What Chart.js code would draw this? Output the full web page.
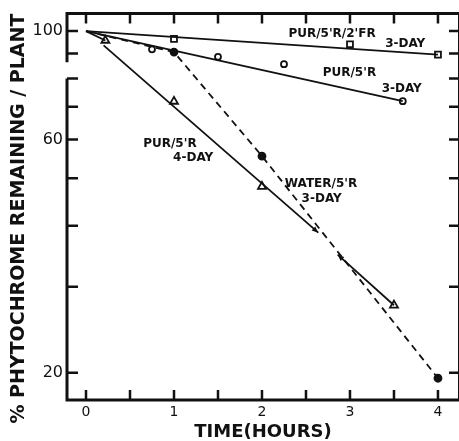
<!DOCTYPE html>
<html><head><meta charset="utf-8">
<script src="https://cdn.jsdelivr.net/npm/chart.js@4"></script>
<style>html,body{margin:0;padding:0;background:#fff;overflow:hidden}</style>
</head><body>
<canvas id="c" width="459" height="441"></canvas>
<script>
// ---- axis ticks / labels ----
const timeTicks = [0, 0.5, 1, 1.5, 2, 2.5, 3, 3.5, 4];
const timeLabels = [0, 1, 2, 3, 4];
const pctTicks = [20, 30, 40, 50, 60, 70, 80, 90, 100];
const pctLabels = [20, 60, 100];
const breakPct = [80, 86.4];   // gap in left axis

// ---- measured points ----
const frTime = [1, 3, 4];            const frPct = [96.4, 94.0, 89.5];        // PUR/5'R/2'FR 3-DAY (squares)
const rTime = [0.75, 1.5, 2.25, 3.6]; const rPct = [91.8, 88.6, 85.6, 71.9];  // PUR/5'R 3-DAY (open circles)
const r4Time = [0.22, 1, 2, 3.5];     const r4Pct = [95.7, 71.8, 48.1, 27.5]; // PUR/5'R 4-DAY (triangles)
const wTime = [1, 2, 4];              const wPct = [90.6, 55.5, 19.5];        // WATER/5'R 3-DAY (filled circles)

// ---- drawn lines ----
const frFitTime = [0, 4];        const frFitPct = [100, 89.5];
const rFitTime = [0, 3.6];       const rFitPct = [100, 71.9];
const r4FitTimeA = [0, 0.22];    const r4FitPctA = [100, 95.7];
const r4FitTimeB = [0.2, 2.64];  const r4FitPctB = [93.5, 38.7];
const r4FitTimeC = [2.86, 3.5];  const r4FitPctC = [34.9, 27.5];
const wFitTime = [0, 1, 2, 4];   const wFitPct = [100, 90.6, 55.5, 19.5];

// ---- in-plot labels ----
const noteText = ["PUR/5'R/2'FR", "3-DAY", "PUR/5'R", "3-DAY", "PUR/5'R", "4-DAY", "WATER/5'R", "3-DAY"];
const noteTime = [2.3, 3.4, 2.69, 3.36, 0.65, 0.99, 2.26, 2.45];
const notePct  = [98.7, 94.3, 82.1, 76.3, 58.9, 55.1, 48.6, 45.4];

const pts = (xs, ys) => xs.map((x, i) => ({x: x, y: ys[i]}));
const INK = '#111';

function lineDs(xs, ys, dash) {
  return {type: 'scatter', data: pts(xs, ys), showLine: true, pointRadius: 0,
          borderColor: INK, borderWidth: 1.8, borderDash: dash || [], fill: false};
}
function markDs(xs, ys, style, r, fillCol) {
  return {type: 'scatter', data: pts(xs, ys), showLine: false, pointStyle: style,
          pointRadius: r, pointBorderWidth: 1.8, pointBorderColor: INK,
          pointBackgroundColor: fillCol, borderColor: INK, backgroundColor: fillCol};
}

function arrowHead(ctx, x0, y0, x1, y1, len) {
  const a = Math.atan2(y1 - y0, x1 - x0);
  ctx.beginPath();
  ctx.moveTo(x1, y1);
  ctx.lineTo(x1 - len * Math.cos(a - 0.4), y1 - len * Math.sin(a - 0.4));
  ctx.lineTo(x1 - len * Math.cos(a + 0.4), y1 - len * Math.sin(a + 0.4));
  ctx.closePath();
  ctx.fill();
}

const framePlugin = {
  id: 'frame',
  afterDatasetsDraw(chart) {
    const {ctx, chartArea: a, scales: {x, y}} = chart;
    ctx.save();
    ctx.strokeStyle = INK; ctx.fillStyle = INK;
    ctx.lineWidth = 3; ctx.lineCap = 'butt';
    ctx.beginPath();
    ctx.moveTo(a.left - 1.5, a.top); ctx.lineTo(a.right + 2, a.top);
    ctx.moveTo(a.left - 1.5, a.bottom); ctx.lineTo(a.right + 2, a.bottom);
    ctx.moveTo(a.right + 0.5, a.top); ctx.lineTo(a.right + 0.5, a.bottom);
    ctx.moveTo(a.left, a.top); ctx.lineTo(a.left, y.getPixelForValue(breakPct[1]));
    ctx.moveTo(a.left, y.getPixelForValue(breakPct[0])); ctx.lineTo(a.left, a.bottom);
    ctx.stroke();
    // inward ticks
    ctx.lineWidth = 2.5;
    ctx.beginPath();
    timeTicks.forEach(t => {
      const px = x.getPixelForValue(t);
      ctx.moveTo(px, a.bottom); ctx.lineTo(px, a.bottom - 10);
      ctx.moveTo(px, a.top); ctx.lineTo(px, a.top + 10);
    });
    pctTicks.forEach(p => {
      const py = y.getPixelForValue(p);
      ctx.moveTo(a.left, py); ctx.lineTo(a.left + 11, py);
      ctx.moveTo(a.right, py); ctx.lineTo(a.right - 10, py);
    });
    ctx.stroke();
    // little arrowheads on the broken 4-day line
    const bx0 = x.getPixelForValue(r4FitTimeB[0]), by0 = y.getPixelForValue(r4FitPctB[0]);
    const bx1 = x.getPixelForValue(r4FitTimeB[1]), by1 = y.getPixelForValue(r4FitPctB[1]);
    arrowHead(ctx, bx0, by0, bx1, by1, 7);
    const cx0 = x.getPixelForValue(r4FitTimeC[1]), cy0 = y.getPixelForValue(r4FitPctC[1]);
    const cx1 = x.getPixelForValue(r4FitTimeC[0]), cy1 = y.getPixelForValue(r4FitPctC[0]);
    arrowHead(ctx, cx0, cy0, cx1, cy1, 7);
    // notes
    ctx.font = 'bold 12px "DejaVu Sans"';
    ctx.textAlign = 'left'; ctx.textBaseline = 'middle';
    noteText.forEach((s, i) => {
      ctx.fillText(s, x.getPixelForValue(noteTime[i]), y.getPixelForValue(notePct[i]));
    });
    ctx.restore();
  }
};

new Chart(document.getElementById('c'), {
  type: 'scatter',
  data: {
    datasets: [
      lineDs(frFitTime, frFitPct),
      lineDs(rFitTime, rFitPct),
      lineDs(r4FitTimeA, r4FitPctA),
      lineDs(r4FitTimeB, r4FitPctB),
      lineDs(r4FitTimeC, r4FitPctC),
      lineDs(wFitTime, wFitPct, [7, 5]),
      markDs(frTime, frPct, 'rect', 4.2, '#fff'),
      markDs(rTime, rPct, 'circle', 3, '#fff'),
      markDs(r4Time, r4Pct, 'triangle', 4.6, '#fff'),
      markDs(wTime, wPct, 'circle', 3.5, INK)
    ]
  },
  options: {
    responsive: false, animation: false, devicePixelRatio: 1,
    layout: {autoPadding: false, padding: {top: 13, right: 0, left: 0, bottom: 0}},
    plugins: {legend: {display: false}, tooltip: {enabled: false}},
    scales: {
      x: {
        type: 'linear', min: -0.216, max: 4.239,
        grid: {display: false, drawTicks: false}, border: {display: false},
        afterBuildTicks: s => { s.ticks = timeTicks.map(v => ({value: v})); },
        afterFit: s => { s.height = 41; },
        ticks: {autoSkip: false, maxRotation: 0, padding: 4, color: INK,
                font: {family: 'DejaVu Sans', size: 14},
                callback: v => timeLabels.includes(v) ? String(v) : ''},
        title: {display: true, text: 'TIME(HOURS)', color: INK,
                font: {family: 'DejaVu Sans', size: 18, weight: 'bold', lineHeight: 1},
                padding: {top: 0, bottom: 0}}
      },
      y: {
        type: 'logarithmic', min: 17.6, max: 108.6,
        grid: {display: false, drawTicks: false}, border: {display: false},
        afterBuildTicks: s => { s.ticks = pctTicks.map(v => ({value: v})); },
        afterFit: s => { s.width = 67; },
        ticks: {autoSkip: false, padding: 4, color: INK,
                font: {family: 'DejaVu Sans', size: 16},
                callback: v => pctLabels.includes(v) ? String(v) : ''},
        title: {display: true, text: '% PHYTOCHROME REMAINING / PLANT', color: INK, align: 'end',
                font: {family: 'DejaVu Sans', size: 19, weight: 'bold', lineHeight: 1},
                padding: {top: 10, bottom: 0}}
      }
    }
  },
  plugins: [framePlugin]
});
</script>
</body></html>
